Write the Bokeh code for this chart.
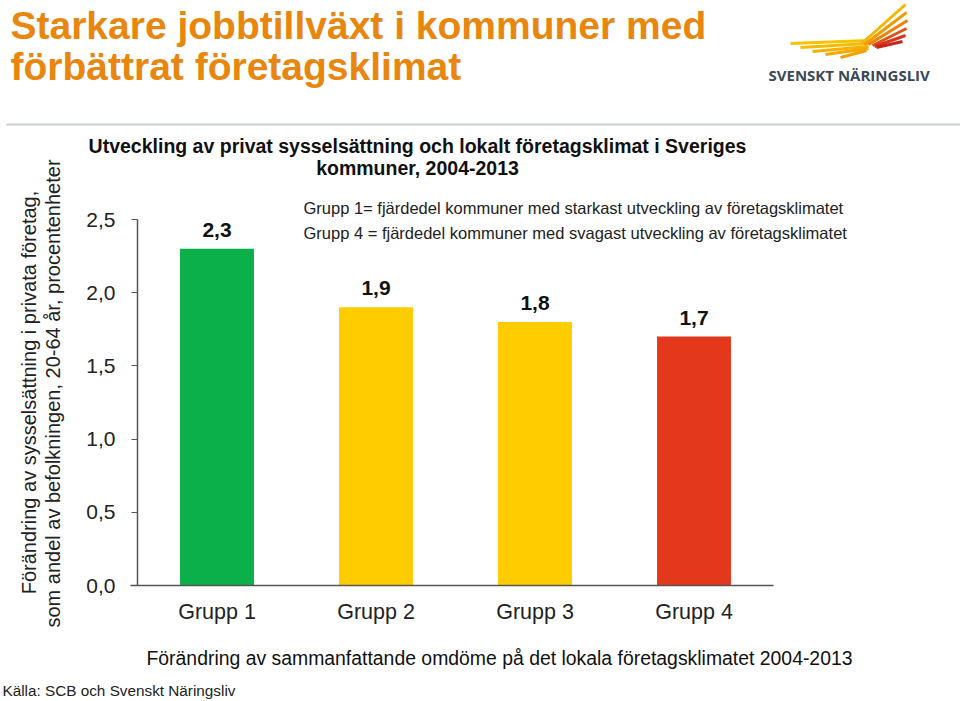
import math
from bokeh.plotting import figure
from bokeh.models import Range1d, FixedTicker, Label, LabelSet, ColumnDataSource, Arrow
from bokeh.core.properties import value
from bokeh.embed import file_html
from bokeh.resources import INLINE

# ---- data ----
categories = ["Grupp 1", "Grupp 2", "Grupp 3", "Grupp 4"]
values = [2.3, 1.9, 1.8, 1.7]
value_labels = ["2,3", "1,9", "1,8", "1,7"]
bar_colors = ["#0BB04B", "#FFCC00", "#FFCC00", "#E3381B"]
y_ticks = [0, 0.5, 1, 1.5, 2, 2.5]
y_tick_labels = ["0,0", "0,5", "1,0", "1,5", "2,0", "2,5"]

title_lines = ["Starkare jobbtillväxt i kommuner med", "förbättrat företagsklimat"]
subtitle_lines = ["Utveckling av privat sysselsättning och lokalt företagsklimat i Sveriges",
                  "kommuner, 2004-2013"]
note_lines = ["Grupp 1= fjärdedel kommuner med starkast utveckling av företagsklimatet",
              "Grupp 4 = fjärdedel kommuner med svagast utveckling av företagsklimatet"]
y_title_lines = ["Förändring av sysselsättning i privata företag,",
                 "som andel av befolkningen, 20-64 år, procentenheter"]
x_title = "Förändring av sammanfattande omdöme på det lokala företagsklimatet 2004-2013"
source_text = "Källa: SCB och Svenskt Näringsliv"
logo_text = "SVENSKT NÄRINGSLIV"

FONT = "Liberation Sans"
W, H = 960, 701
# placement of the value axes on the canvas (pixels)
AX_LEFT, AX_ZERO, PX_PER_CAT, PX_PER_UNIT = 137, 585, 159, 146.4

x_pos = [i + 0.5 for i in range(len(categories))]

p = figure(width=W, height=H,
           x_range=Range1d(-AX_LEFT / PX_PER_CAT, (W - AX_LEFT) / PX_PER_CAT),
           y_range=Range1d(-(H - AX_ZERO) / PX_PER_UNIT, AX_ZERO / PX_PER_UNIT),
           output_backend="svg", toolbar_location=None, min_border=0)
p.outline_line_color = None
p.xgrid.visible = False
p.ygrid.visible = False
p.background_fill_color = "white"
p.border_fill_color = "white"


def X(px):
    return (px - AX_LEFT) / PX_PER_CAT


def Y(py):
    return (AX_ZERO - py) / PX_PER_UNIT


src = ColumnDataSource(dict(x=x_pos, top=values, lab=value_labels, color=bar_colors))
p.vbar(x="x", top="top", width=0.465, color="color", source=src, line_color=None)

p.add_layout(LabelSet(x="x", y="top", text="lab", source=src, text_align="center",
                      text_baseline="bottom", y_offset=12, text_font=value(FONT),
                      text_font_style="bold", text_font_size="21px", text_color="#111111"))

# axes
AXC = "#555555"
ax = p.yaxis[0]
ax.fixed_location = 0
ax.bounds = (0, 2.5)
ax.ticker = FixedTicker(ticks=y_ticks)
ax.major_label_overrides = dict(zip(y_ticks, y_tick_labels))
ax.major_label_text_font = FONT
ax.major_label_text_font_size = "21px"
ax.major_label_text_color = "#222222"
ax.major_tick_out = 6
ax.major_tick_in = 0
ax.minor_tick_line_color = None
ax.axis_line_color = AXC
ax.axis_line_width = 1.5
ax.major_tick_line_color = AXC
ax.major_label_standoff = 16

bx = p.xaxis[0]
bx.fixed_location = 0
bx.bounds = (X(130), len(categories))
bx.ticker = FixedTicker(ticks=x_pos)
bx.major_label_overrides = dict(zip(x_pos, categories))
bx.major_tick_out = 0
bx.major_tick_in = 0
bx.major_label_text_font = FONT
bx.major_label_text_font_size = "21.5px"
bx.major_label_text_color = "#222222"
bx.major_label_standoff = 14
bx.axis_line_color = AXC
bx.axis_line_width = 1.5
bx.minor_tick_line_color = None


def lab(px, py, text, size, color="#111111", bold=False, align="left", angle=0, font=FONT):
    p.add_layout(Label(x=X(px), y=Y(py), text=text, text_font=font,
                       text_font_size=size, text_color=color,
                       text_font_style="bold" if bold else "normal",
                       text_align=align, text_baseline="middle", angle=angle))


# title
ORANGE = "#E8860E"
lab(10, 25, title_lines[0], "39px", ORANGE, bold=True)
lab(10, 66, title_lines[1], "39px", ORANGE, bold=True)

# separator line
p.add_layout(Arrow(end=None, x_start=X(6), y_start=Y(124), x_end=X(960), y_end=Y(124),
                   line_color="#C9CDCD", line_width=2))

# subtitle
lab(417, 145, subtitle_lines[0], "19.5px", "#111111", bold=True, align="center")
lab(417, 167, subtitle_lines[1], "19.5px", "#111111", bold=True, align="center")

# notes
lab(303, 207, note_lines[0], "16.5px", "#222222")
lab(303, 232, note_lines[1], "16.5px", "#222222")

# y title
lab(28, 392, y_title_lines[0], "20px", "#222222", align="center", angle=math.pi / 2)
lab(52, 393, y_title_lines[1], "20px", "#222222", align="center", angle=math.pi / 2)

# x title
lab(499, 657, x_title, "19.4px", "#111111", align="center")

# source
lab(2, 690, source_text, "15.3px", "#222222")

# logo (decoration)
feathers = [
    ((790, 43), (868, 40), "#F7C200", 3),
    ((800, 47), (868, 43), "#F6BA00", 3),
    ((812, 51), (868, 46), "#F5B000", 3),
    ((825, 54), (868, 48), "#F4A800", 3),
    ((840, 57), (866, 50), "#F3A000", 3),
    ((860, 44), (905, 4), "#F7B500", 3),
    ((864, 44), (906, 12), "#F39A00", 3),
    ((868, 44), (907, 20), "#EF8200", 3),
    ((872, 45), (906, 28), "#E2501B", 3),
    ((874, 46), (905, 35), "#D8361A", 3),
    ((876, 47), (902, 41), "#C8261A", 3),
]
for (x0, y0), (x1, y1), c, w in feathers:
    p.add_layout(Arrow(end=None, x_start=X(x0), y_start=Y(y0), x_end=X(x1), y_end=Y(y1),
                       line_color=c, line_width=w))
lab(768, 74, logo_text, "15px", "#3A4858", bold=True, font="Open Sans")

open("out.html", "w").write(file_html(p, INLINE))
